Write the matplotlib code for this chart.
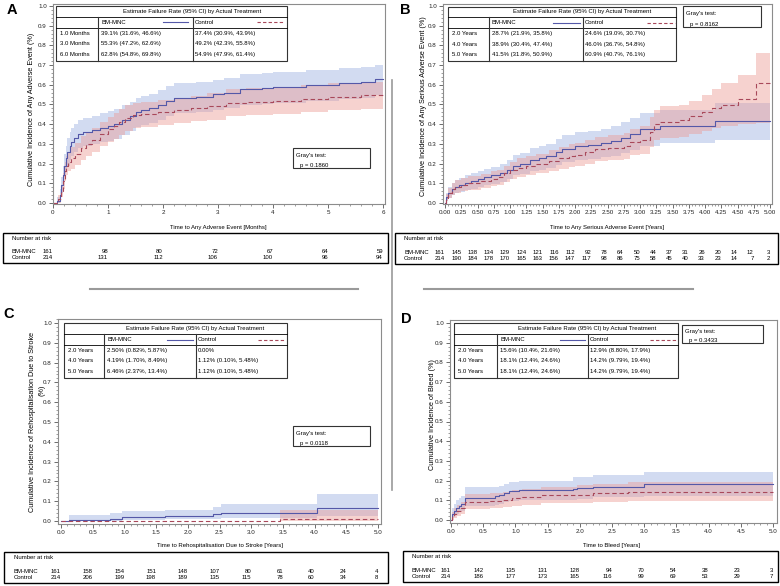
import matplotlib
matplotlib.use('Agg')
import matplotlib.pyplot as plt
from matplotlib.lines import Line2D
from matplotlib.patches import Rectangle
from matplotlib.ticker import MultipleLocator, FormatStrFormatter
import matplotlib.transforms as mtransforms

# ---------------- DATA ----------------
# Panel A (months)
a_bm_t  = [0, 0.08, 0.12, 0.15, 0.18, 0.2, 0.23, 0.26, 0.3, 0.33, 0.38, 0.45, 0.55, 0.7, 0.85, 1.0, 1.1, 1.25, 1.4, 1.5, 1.6, 1.75, 1.9, 2.05, 2.2, 2.6, 2.9, 3.1, 3.4, 3.8, 4.0, 4.6, 5.2, 5.6, 5.85, 6.0]
a_bm_v  = [0, 0.01, 0.04, 0.09, 0.14, 0.19, 0.23, 0.26, 0.29, 0.31, 0.33, 0.35, 0.36, 0.37, 0.38, 0.391, 0.40, 0.42, 0.44, 0.46, 0.47, 0.48, 0.50, 0.52, 0.535, 0.54, 0.553, 0.56, 0.58, 0.585, 0.59, 0.60, 0.61, 0.615, 0.628, 0.628]
a_bm_lo = [0, 0.0, 0.01, 0.05, 0.09, 0.13, 0.17, 0.19, 0.22, 0.24, 0.26, 0.28, 0.29, 0.30, 0.31, 0.316, 0.325, 0.345, 0.365, 0.385, 0.395, 0.405, 0.42, 0.44, 0.455, 0.46, 0.472, 0.48, 0.50, 0.505, 0.51, 0.52, 0.53, 0.535, 0.548, 0.548]
a_bm_hi = [0, 0.03, 0.07, 0.13, 0.19, 0.25, 0.29, 0.33, 0.36, 0.38, 0.40, 0.42, 0.43, 0.44, 0.455, 0.466, 0.475, 0.495, 0.515, 0.535, 0.545, 0.555, 0.575, 0.595, 0.61, 0.615, 0.626, 0.635, 0.655, 0.66, 0.665, 0.675, 0.685, 0.69, 0.698, 0.698]
a_ct_t  = [0, 0.1, 0.15, 0.18, 0.21, 0.24, 0.28, 0.33, 0.4, 0.5, 0.6, 0.7, 0.85, 1.0, 1.1, 1.2, 1.3, 1.45, 1.6, 1.9, 2.2, 2.5, 2.8, 3.15, 3.5, 4.0, 4.5, 5.0, 5.6, 6.0]
a_ct_v  = [0, 0.02, 0.06, 0.11, 0.16, 0.19, 0.21, 0.23, 0.25, 0.28, 0.30, 0.32, 0.35, 0.374, 0.39, 0.41, 0.43, 0.445, 0.45, 0.46, 0.47, 0.48, 0.492, 0.51, 0.515, 0.52, 0.53, 0.54, 0.549, 0.549]
a_ct_lo = [0, 0.0, 0.03, 0.07, 0.11, 0.14, 0.16, 0.175, 0.195, 0.22, 0.24, 0.26, 0.29, 0.309, 0.325, 0.345, 0.365, 0.38, 0.385, 0.395, 0.405, 0.415, 0.423, 0.443, 0.448, 0.453, 0.463, 0.473, 0.479, 0.479]
a_ct_hi = [0, 0.04, 0.09, 0.15, 0.21, 0.24, 0.26, 0.285, 0.305, 0.34, 0.36, 0.38, 0.41, 0.439, 0.455, 0.475, 0.495, 0.51, 0.515, 0.525, 0.535, 0.545, 0.558, 0.577, 0.582, 0.587, 0.597, 0.607, 0.614, 0.614]

# Panel B (years)
b_bm_t  = [0, 0.02, 0.05, 0.1, 0.15, 0.22, 0.3, 0.4, 0.5, 0.6, 0.7, 0.85, 0.95, 1.05, 1.15, 1.3, 1.45, 1.55, 1.7, 1.8, 2.0, 2.2, 2.4, 2.55, 2.7, 2.85, 3.0, 3.3, 4.15, 5.0]
b_bm_v  = [0, 0.03, 0.05, 0.07, 0.08, 0.09, 0.10, 0.11, 0.12, 0.13, 0.14, 0.15, 0.17, 0.19, 0.20, 0.22, 0.23, 0.24, 0.26, 0.275, 0.287, 0.295, 0.305, 0.315, 0.33, 0.35, 0.375, 0.389, 0.415, 0.415]
b_bm_lo = [0, 0.01, 0.025, 0.04, 0.05, 0.055, 0.065, 0.07, 0.08, 0.09, 0.095, 0.105, 0.12, 0.14, 0.145, 0.16, 0.17, 0.18, 0.195, 0.21, 0.219, 0.225, 0.235, 0.24, 0.255, 0.27, 0.29, 0.304, 0.318, 0.318]
b_bm_hi = [0, 0.05, 0.08, 0.10, 0.115, 0.125, 0.14, 0.15, 0.16, 0.175, 0.185, 0.2, 0.22, 0.245, 0.255, 0.28, 0.29, 0.30, 0.325, 0.345, 0.358, 0.365, 0.375, 0.39, 0.41, 0.43, 0.455, 0.474, 0.509, 0.509]
b_ct_t  = [0, 0.02, 0.05, 0.1, 0.15, 0.25, 0.35, 0.55, 0.7, 0.8, 0.9, 1.0, 1.1, 1.25, 1.4, 1.6, 1.75, 1.9, 2.0, 2.15, 2.3, 2.5, 2.75, 2.85, 3.0, 3.15, 3.22, 3.3, 3.6, 3.75, 3.95, 4.1, 4.25, 4.5, 4.78, 5.0]
b_ct_v  = [0, 0.025, 0.05, 0.07, 0.08, 0.09, 0.10, 0.11, 0.12, 0.13, 0.15, 0.165, 0.18, 0.19, 0.20, 0.215, 0.23, 0.24, 0.246, 0.26, 0.275, 0.28, 0.29, 0.31, 0.32, 0.36, 0.40, 0.41, 0.42, 0.44, 0.46, 0.48, 0.50, 0.53, 0.609, 0.609]
b_ct_lo = [0, 0.01, 0.025, 0.04, 0.05, 0.06, 0.065, 0.075, 0.085, 0.09, 0.105, 0.12, 0.13, 0.14, 0.15, 0.16, 0.175, 0.185, 0.19, 0.2, 0.215, 0.22, 0.225, 0.245, 0.25, 0.285, 0.32, 0.33, 0.335, 0.35, 0.367, 0.38, 0.39, 0.40, 0.407, 0.407]
b_ct_hi = [0, 0.045, 0.075, 0.1, 0.115, 0.125, 0.135, 0.145, 0.16, 0.17, 0.19, 0.21, 0.23, 0.24, 0.25, 0.27, 0.285, 0.3, 0.307, 0.32, 0.335, 0.345, 0.355, 0.375, 0.39, 0.435, 0.47, 0.49, 0.50, 0.52, 0.548, 0.58, 0.61, 0.65, 0.761, 0.761]

# Panel C (years)
c_bm_t  = [0, 0.13, 0.77, 0.96, 1.64, 2.4, 2.53, 4.03, 5.0]
c_bm_v  = [0, 0.006, 0.012, 0.019, 0.025, 0.033, 0.042, 0.0646, 0.0646]
c_bm_lo = [0, 0.0, 0.002, 0.005, 0.008, 0.012, 0.017, 0.024, 0.024]
c_bm_hi = [0, 0.03, 0.04, 0.048, 0.058, 0.07, 0.085, 0.134, 0.134]
c_ct_t  = [0, 3.45, 5.0]
c_ct_v  = [0, 0.0112, 0.0112]
c_ct_lo = [0, 0.001, 0.001]
c_ct_hi = [0, 0.0548, 0.0548]

# Panel D (years)
d_bm_t  = [0, 0.02, 0.05, 0.08, 0.12, 0.15, 0.22, 0.68, 0.75, 0.82, 0.9, 1.05, 1.9, 1.95, 2.2, 3.0, 5.0]
d_bm_v  = [0, 0.03, 0.045, 0.06, 0.07, 0.08, 0.11, 0.12, 0.125, 0.135, 0.145, 0.15, 0.155, 0.16, 0.17, 0.181, 0.181]
d_bm_lo = [0, 0.01, 0.02, 0.03, 0.04, 0.045, 0.07, 0.078, 0.082, 0.09, 0.098, 0.102, 0.104, 0.108, 0.116, 0.124, 0.124]
d_bm_hi = [0, 0.06, 0.08, 0.1, 0.11, 0.12, 0.165, 0.17, 0.175, 0.185, 0.195, 0.2, 0.216, 0.22, 0.23, 0.246, 0.246]
d_ct_t  = [0, 0.02, 0.05, 0.1, 0.15, 0.22, 0.6, 0.8, 0.95, 1.1, 1.4, 1.95, 2.2, 2.75, 5.0]
d_ct_v  = [0, 0.015, 0.03, 0.045, 0.06, 0.09, 0.095, 0.10, 0.11, 0.115, 0.125, 0.129, 0.135, 0.142, 0.142]
d_ct_lo = [0, 0.0, 0.01, 0.02, 0.03, 0.055, 0.06, 0.064, 0.072, 0.077, 0.085, 0.088, 0.093, 0.098, 0.098]
d_ct_hi = [0, 0.04, 0.06, 0.075, 0.09, 0.13, 0.135, 0.14, 0.15, 0.155, 0.168, 0.179, 0.185, 0.194, 0.194]

# Risk tables
a_risk_t  = [0, 1, 2, 3, 4, 5, 6]
a_risk_bm = [161, 98, 80, 72, 67, 64, 59]
a_risk_ct = [214, 131, 112, 106, 100, 96, 94]
b_risk_t  = [0, 0.25, 0.5, 0.75, 1.0, 1.25, 1.5, 1.75, 2.0, 2.25, 2.5, 2.75, 3.0, 3.25, 3.5, 3.75, 4.0, 4.25, 4.5, 4.75, 5.0]
b_risk_bm = [161, 145, 138, 134, 129, 124, 121, 116, 112, 92, 78, 64, 50, 44, 37, 31, 26, 20, 14, 12, 3]
b_risk_ct = [214, 190, 184, 178, 170, 165, 163, 156, 147, 117, 98, 86, 75, 58, 45, 40, 33, 23, 14, 7, 2]
c_risk_t  = [0, 0.5, 1.0, 1.5, 2.0, 2.5, 3.0, 3.5, 4.0, 4.5, 5.0]
c_risk_bm = [161, 158, 154, 151, 148, 107, 80, 61, 40, 24, 4]
c_risk_ct = [214, 206, 199, 198, 189, 135, 115, 78, 60, 34, 8]
d_risk_t  = [0, 0.5, 1.0, 1.5, 2.0, 2.5, 3.0, 3.5, 4.0, 4.5, 5.0]
d_risk_bm = [161, 142, 135, 131, 128, 94, 70, 54, 38, 23, 3]
d_risk_ct = [214, 186, 177, 173, 165, 116, 99, 69, 53, 29, 7]

# Estimate tables
a_rows = ['1.0 Months', '3.0 Months', '6.0 Months']
a_est_bm = ['39.1% (31.6%, 46.6%)', '55.3% (47.2%, 62.6%)', '62.8% (54.8%, 69.8%)']
a_est_ct = ['37.4% (30.9%, 43.9%)', '49.2% (42.3%, 55.8%)', '54.9% (47.9%, 61.4%)']
b_rows = ['2.0 Years', '4.0 Years', '5.0 Years']
b_est_bm = ['28.7% (21.9%, 35.8%)', '38.9% (30.4%, 47.4%)', '41.5% (31.8%, 50.9%)']
b_est_ct = ['24.6% (19.0%, 30.7%)', '46.0% (36.7%, 54.8%)', '60.9% (40.7%, 76.1%)']
c_rows = ['2.0 Years', '4.0 Years', '5.0 Years']
c_est_bm = ['2.50% (0.82%, 5.87%)', '4.19% (1.70%, 8.49%)', '6.46% (2.37%, 13.4%)']
c_est_ct = ['0.00%', '1.12% (0.10%, 5.48%)', '1.12% (0.10%, 5.48%)']
d_rows = ['2.0 Years', '4.0 Years', '5.0 Years']
d_est_bm = ['15.6% (10.4%, 21.6%)', '18.1% (12.4%, 24.6%)', '18.1% (12.4%, 24.6%)']
d_est_ct = ['12.9% (8.80%, 17.9%)', '14.2% (9.79%, 19.4%)', '14.2% (9.79%, 19.4%)']

a_p = 'p = 0.1860'
b_p = 'p = 0.8162'
c_p = 'p = 0.0118'
d_p = 'p = 0.3433'

# ---------------- STYLE / LAYOUT ----------------
W, H = 780, 586
fig = plt.figure(figsize=(7.8, 5.86), dpi=100)
NARROW = ['Liberation Sans', 'DejaVu Sans']
REG = ['Liberation Sans', 'DejaVu Sans']
BLUE = '#5458a8'
RED = '#a8485a'
BLUE_F = '#9cb0e0'
RED_F = '#ec9c96'
GRAY = '#8c8c8c'
FS = 4.3
YFS = 5.2


def fx(x):
    return x / W


def fy(y):
    return 1 - y / H


def ftext(x, y, s, size=FS, ha='left', va='center', family=NARROW, **kw):
    fig.text(fx(x), fy(y), s, fontsize=size, ha=ha, va=va, family=family, zorder=7, **kw)


def fline(xs, ys, color='black', lw=0.7, **kw):
    fig.add_artist(Line2D([fx(x) for x in xs], [fy(y) for y in ys],
                          transform=fig.transFigure, color=color, lw=lw, zorder=6, **kw))


def frect(x0, y0, x1, y1, ec='black', lw=0.8, fc='white'):
    fig.add_artist(Rectangle((fx(x0), fy(y1)), fx(x1) - fx(x0), fy(y0) - fy(y1),
                             transform=fig.transFigure, ec=ec, fc=fc, lw=lw, zorder=5))


def make_axes(l, t, r, b, px0, px1, v0, v1, py0, py1, major, minor, fmt):
    ax = fig.add_axes([fx(l), fy(b), fx(r) - fx(l), fy(t) - fy(b)])
    sx = (px1 - px0) / (v1 - v0)
    ax.set_xlim(v0 + (l - px0) / sx, v0 + (r - px0) / sx)
    sy = (py0 - py1)
    ax.set_ylim((py0 - b) / sy, (py0 - t) / sy)
    ax.xaxis.set_major_locator(MultipleLocator(major))
    ax.xaxis.set_minor_locator(MultipleLocator(minor))
    ax.xaxis.set_major_formatter(FormatStrFormatter(fmt))
    ax.yaxis.set_major_locator(MultipleLocator(0.1))
    ax.yaxis.set_minor_locator(MultipleLocator(0.02))
    ax.yaxis.set_major_formatter(FormatStrFormatter('%.1f'))
    for s in ax.spines.values():
        s.set_color(GRAY)
        s.set_linewidth(0.8)
    ax.tick_params(which='major', length=3, width=0.6, color='#555555', labelsize=FS + 0.2, pad=1.5,
                   labelcolor='#222222')
    ax.tick_params(which='minor', length=1.6, width=0.5, color='#777777')
    for lab in ax.get_xticklabels() + ax.get_yticklabels():
        lab.set_family(NARROW)
    return ax


def curves(ax, bt, bv, blo, bhi, ct, cv, clo, chi):
    ax.fill_between(bt, blo, bhi, step='post', color=BLUE_F, alpha=0.45, lw=0)
    ax.fill_between(ct, clo, chi, step='post', color=RED_F, alpha=0.45, lw=0)
    ax.step(bt, bv, where='post', color=BLUE, lw=0.8)
    ax.step(ct, cv, where='post', color=RED, lw=0.8, dashes=(4, 2.5))


def est_table(L, T, R, B, c1, c2, rows, bm, ct, line_b, line_r):
    h = B - T
    frect(L, T, R, B, ec='#333333', lw=0.8)
    y1 = T + 0.2 * h
    y2 = T + 0.4 * h
    fline([L, R], [y1, y1], lw=0.6)
    fline([L, R], [y2, y2], lw=0.6)
    fline([c1, c1], [y1, B], lw=0.8, color='#333333')
    fline([c2, c2], [y1, B], lw=0.8, color='#333333')
    ftext((c1 + R) / 2, T + 0.1 * h, 'Estimate Failure Rate (95% CI) by Actual Treatment', ha='center')
    yh = T + 0.3 * h
    ftext(c1 + 3, yh, 'BM-MNC')
    fline(line_b, [yh, yh], color=BLUE, lw=0.8)
    ftext(c2 + 2, yh, 'Control')
    fline(line_r, [yh, yh], color=RED, lw=0.8, dashes=(3, 2))
    for i, fr in enumerate([0.5, 0.69, 0.88]):
        yy = T + fr * h
        ftext(L + 4, yy, rows[i])
        ftext(c1 + 3, yy, bm[i])
        ftext(c2 + 2, yy, ct[i])


def gray_box(L, T, R, B, p):
    frect(L, T, R, B, ec='#333333', lw=0.8)
    h = B - T
    ftext(L + 3, T + 0.38 * h, "Gray's test:")
    ftext(L + 7, T + 0.86 * h, p)


def risk_table(ax, L, T, R, B, xlab, t, bm, ct):
    frect(L, T, R, B, ec='black', lw=1.0)
    ftext(xlab, T + 0.18 * (B - T), 'Number at risk')
    ftext(xlab, T + 0.62 * (B - T), 'BM-MNC')
    ftext(xlab, T + 0.83 * (B - T), 'Control')
    tr = mtransforms.blended_transform_factory(ax.transData, fig.transFigure)
    for ti, a, c in zip(t, bm, ct):
        fig.text(ti, fy(T + 0.62 * (B - T)), str(a), transform=tr, ha='right', va='center',
                 fontsize=FS, family=NARROW, zorder=7)
        fig.text(ti, fy(T + 0.83 * (B - T)), str(c), transform=tr, ha='right', va='center',
                 fontsize=FS, family=NARROW, zorder=7)


# ---------------- PANEL A ----------------
axA = make_axes(53, 4, 385, 204, 53, 383, 0, 6, 203, 6, 1, 0.2, '%d')
curves(axA, a_bm_t, a_bm_v, a_bm_lo, a_bm_hi, a_ct_t, a_ct_v, a_ct_lo, a_ct_hi)
ftext(218, 228, 'Time to Any Adverse Event [Months]', ha='center')
ftext(32, 109, 'Cumulative Incidence of Any Adverse Event (%)', size=YFS, ha='center', family=REG, rotation=90)
est_table(56, 5.7, 287, 61, 98, 193, a_rows, a_est_bm, a_est_ct, [163, 188], [257, 283])
gray_box(293, 148, 370, 168, a_p)
risk_table(axA, 3, 233, 388, 263, 12, a_risk_t, a_risk_bm, a_risk_ct)

# ---------------- PANEL B ----------------
axB = make_axes(443, 4, 772, 204, 445, 770, 0, 5, 203, 6, 0.25, 0.05, '%.2f')
curves(axB, b_bm_t, b_bm_v, b_bm_lo, b_bm_hi, b_ct_t, b_ct_v, b_ct_lo, b_ct_hi)
ftext(607, 228, 'Time to Any Serious Adverse Event [Years]', ha='center')
ftext(424, 106, 'Cumulative Incidence of Any Serious Adverse Event (%)', size=YFS, ha='center', family=REG, rotation=90)
est_table(448, 6.5, 676, 61, 489, 583, b_rows, b_est_bm, b_est_ct, [553, 580], [647, 675])
gray_box(683, 6, 761, 27, b_p)
risk_table(axB, 395, 233, 778, 264, 404, b_risk_t, b_risk_bm, b_risk_ct)

# ---------------- PANEL C ----------------
axC = make_axes(58, 319, 381, 524, 61, 378, 0, 5, 521, 323, 0.5, 0.1, '%.1f')
curves(axC, c_bm_t, c_bm_v, c_bm_lo, c_bm_hi, c_ct_t, c_ct_v, c_ct_lo, c_ct_hi)
ftext(220, 546, 'Time to Rehospitalisation Due to Stroke [Years]', ha='center')
ftext(33, 422, 'Cumulative Incidence of Rehospitalisation Due to Stroke', size=YFS, ha='center', family=REG, rotation=90)
ftext(42, 390, '(%)', size=YFS, ha='center', family=REG, rotation=90)
est_table(64, 323, 287, 378, 104, 196, c_rows, c_est_bm, c_est_ct, [167, 193], [258, 285])
gray_box(293, 426, 370, 446, c_p)
risk_table(axC, 4, 552, 388, 583, 14, c_risk_t, c_risk_bm, c_risk_ct)

# ---------------- PANEL D ----------------
axD = make_axes(450, 320, 777, 523, 451, 773, 0, 5, 520, 323, 0.5, 0.1, '%.1f')
curves(axD, d_bm_t, d_bm_v, d_bm_lo, d_bm_hi, d_ct_t, d_ct_v, d_ct_lo, d_ct_hi)
ftext(612, 546, 'Time to Bleed [Years]', ha='center')
ftext(432, 415, 'Cumulative Incidence of Bleed (%)', size=YFS, ha='center', family=REG, rotation=90)
est_table(454, 323, 678, 378, 497, 588, d_rows, d_est_bm, d_est_ct, [560, 585], [650, 677])
gray_box(682, 325, 763, 343, d_p)
risk_table(axD, 403, 551, 778, 582, 412, d_risk_t, d_risk_bm, d_risk_ct)

# ---------------- decorations ----------------
fline([90, 358], [289, 289], color='#9a9a9a', lw=1.5)
fline([424, 693], [289, 289], color='#9a9a9a', lw=1.5)
fline([392, 392], [80, 490], color='#9a9a9a', lw=1.2)

for lab, x, y in [('A', 12, 10), ('B', 405, 10), ('C', 9, 314), ('D', 406, 319)]:
    ftext(x, y, lab, size=10.5, ha='center', family=REG, weight='bold')

fig.savefig('out.png', dpi=100)
